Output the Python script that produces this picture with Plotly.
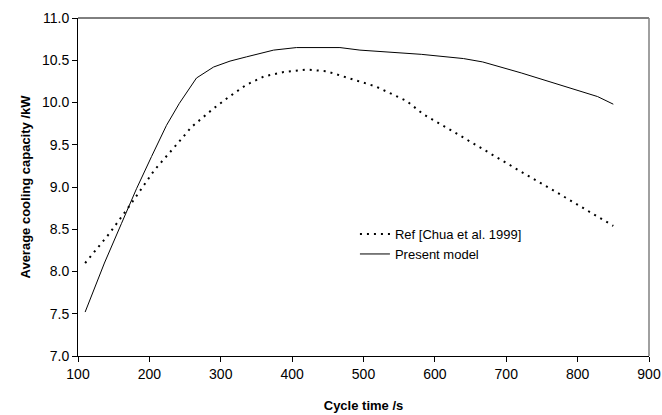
import plotly.graph_objects as go

# Data
ref_x = [110, 144, 175, 207, 240, 259, 290, 312, 336, 361, 388, 420, 448, 488, 517, 560, 584, 621, 672, 719, 766, 812, 850]
ref_y = [8.10, 8.45, 8.81, 9.20, 9.52, 9.71, 9.93, 10.07, 10.21, 10.31, 10.36, 10.39, 10.37, 10.27, 10.19, 10.02, 9.86, 9.68, 9.42, 9.19, 8.96, 8.73, 8.54]

model_x = [110, 137, 161, 182, 203, 224, 242, 266, 290, 313, 336, 374, 406, 467, 495, 533, 581, 640, 667, 721, 775, 828, 850]
model_y = [7.52, 8.10, 8.57, 8.98, 9.36, 9.73, 9.99, 10.29, 10.42, 10.49, 10.54, 10.62, 10.65, 10.65, 10.62, 10.60, 10.57, 10.52, 10.48, 10.35, 10.21, 10.07, 9.98]

x_ticks = [100, 200, 300, 400, 500, 600, 700, 800, 900]
y_ticks = [7.0, 7.5, 8.0, 8.5, 9.0, 9.5, 10.0, 10.5, 11.0]

FONT = "Liberation Sans, Arial, sans-serif"

fig = go.Figure()
fig.add_trace(go.Scatter(x=ref_x, y=ref_y, mode="lines", name="Ref [Chua et al. 1999]",
                         line=dict(color="black", width=2, dash="2px,5px")))
fig.add_trace(go.Scatter(x=model_x, y=model_y, mode="lines", name="Present model",
                         line=dict(color="black", width=1)))

fig.update_layout(
    width=662, height=415,
    margin=dict(l=78, r=13, t=18, b=59),
    paper_bgcolor="white", plot_bgcolor="white",
    font=dict(family=FONT, size=14, color="black"),
    showlegend=True,
    legend=dict(x=0.485, y=0.405, xanchor="left", yanchor="top",
                bgcolor="rgba(0,0,0,0)", font=dict(size=13), tracegroupgap=0),
    xaxis=dict(range=[100, 900], tickvals=x_ticks, ticktext=[str(v) for v in x_ticks],
               showgrid=False, zeroline=False, showline=True, linecolor="black", linewidth=1,
               ticks="outside", ticklen=5, tickcolor="black", tickfont=dict(size=14),
               automargin=False,
               title=dict(text="<b>Cycle time /s</b>", font=dict(size=13), standoff=20)),
    yaxis=dict(range=[7.0, 11.0], tickvals=y_ticks, ticktext=[f"{v:.1f}" for v in y_ticks],
               showgrid=False, zeroline=False, showline=True, linecolor="black", linewidth=1,
               ticks="outside", ticklen=5, tickcolor="black", tickfont=dict(size=14),
               automargin=False,
               title=dict(text="<b>Average cooling capacity /kW</b>", font=dict(size=13), standoff=8)),
)
# top and right frame of the plot area
fig.add_shape(type="line", xref="paper", yref="paper", x0=0, x1=1, y0=1, y1=1,
              line=dict(color="black", width=1))
fig.add_shape(type="line", xref="paper", yref="paper", x0=1, x1=1, y0=0, y1=1,
              line=dict(color="#808080", width=1.5))

fig.write_html("out.html", post_script="document.body.style.margin='0';",
               config={"displayModeBar": False})
